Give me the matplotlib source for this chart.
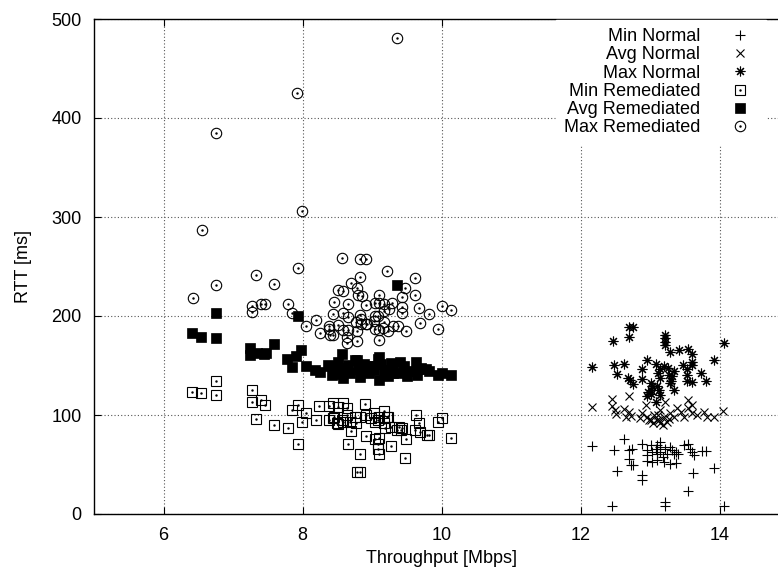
import matplotlib
matplotlib.use("Agg")
import matplotlib.pyplot as plt

plt.rcParams["font.family"] = ["Liberation Sans", "DejaVu Sans"]

# ---- Normal runs ---------------------------------------------------------
min_normal_x = [12.17, 12.48, 12.63, 12.70, 12.74, 12.70, 12.72, 12.76, 12.52, 12.89,
                12.89, 12.89, 12.96, 12.96, 12.96, 13.01, 13.03, 13.03, 13.08, 13.10,
                13.10, 13.10, 13.15, 13.15, 13.15, 13.18, 13.20, 13.22, 13.25, 13.29,
                13.32, 13.34, 13.29, 13.37, 13.38, 13.41, 13.49, 13.54, 13.58, 13.61,
                13.63, 13.62, 13.75, 13.80, 13.92, 13.54, 12.46, 13.22, 13.22, 14.06]
min_normal_y = [69, 65, 76, 65, 66, 56, 50, 50, 43, 71,
                39, 34, 65, 60, 54, 70, 63, 53, 66, 70,
                61, 55, 73, 68, 63, 58, 53, 66, 61, 68,
                65, 61, 51, 52, 63, 61, 70, 71, 66, 63,
                60, 41, 64, 64, 46, 23, 8, 12, 8, 8]

avg_normal_x = [12.17, 12.46, 12.46, 12.49, 12.51, 12.70, 12.63, 12.70, 12.72, 12.66,
                12.89, 12.94, 12.96, 13.01, 13.06, 13.10, 13.15, 13.20, 13.22, 13.25,
                13.29, 13.34, 13.39, 13.44, 13.49, 13.54, 13.54, 13.61, 13.61, 13.68,
                13.78, 13.82, 13.92, 14.05, 12.98, 13.13, 13.15, 13.05, 13.18, 13.12,
                12.85, 13.28]
avg_normal_y = [108, 116, 109, 105, 101, 119, 106, 103, 99, 98,
                102, 110, 98, 95, 100, 95, 105, 98, 113, 93,
                102, 98, 107, 103, 98, 115, 107, 110, 102, 100,
                103, 98, 98, 104, 95, 95, 92, 92, 90, 100,
                97, 96]

max_normal_x = [12.70, 12.76, 12.70, 12.47, 13.21, 13.21, 13.21, 13.21, 14.06, 13.29,
                13.42, 13.54, 13.61, 13.61, 13.61, 13.92, 12.17, 12.48, 12.63, 12.96,
                12.52, 12.69, 12.71, 12.76, 12.89, 12.89, 13.08, 13.15, 13.20, 13.26,
                13.11, 13.15, 13.27, 13.34, 13.30, 13.29, 13.31, 13.01, 13.01, 12.97,
                13.03, 13.10, 13.13, 13.15, 12.95, 13.01, 13.34, 13.48, 13.53, 13.53,
                13.53, 13.61, 13.74, 13.80, 13.08]
max_normal_y = [189, 189, 179, 175, 181, 178, 174, 171, 173, 164,
                166, 167, 162, 154, 151, 156, 148, 151, 152, 156,
                141, 137, 135, 131, 146, 136, 152, 146, 149, 147,
                142, 137, 140, 144, 134, 132, 139, 132, 125, 123,
                129, 129, 125, 120, 119, 121, 125, 151, 146, 140,
                134, 133, 142, 134, 113]

# ---- Remediated runs -----------------------------------------------------
min_rem_x = [6.75, 6.41, 6.54, 6.75, 7.28, 7.28, 7.40, 7.46, 7.33, 7.59,
             7.79, 7.85, 7.93, 7.99, 8.05, 7.93, 8.19, 8.24, 8.38, 8.44,
             8.51, 8.58, 8.64, 8.90, 8.44, 8.50, 8.57, 8.64, 8.69, 8.83,
             8.91, 8.98, 9.08, 9.17, 9.17, 9.23, 9.27, 9.39, 9.42, 9.49,
             9.63, 9.67, 9.79, 9.95, 10.01, 10.14, 8.66, 8.91, 9.04, 9.09,
             9.28, 8.38, 8.45, 8.51, 8.58, 8.76, 8.77, 9.03, 9.04, 9.10,
             9.22, 9.19, 9.36, 9.43, 9.62, 9.69, 9.82, 8.70, 9.10, 9.08,
             9.10, 8.83, 9.47, 8.79, 8.83]
min_rem_y = [134, 123, 122, 120, 125, 113, 115, 110, 96, 90,
             87, 105, 110, 93, 102, 71, 95, 109, 109, 112,
             108, 112, 107, 111, 97, 92, 95, 100, 93, 98,
             100, 97, 95, 104, 92, 98, 88, 88, 85, 76,
             100, 92, 80, 93, 97, 77, 71, 79, 76, 71,
             69, 95, 98, 91, 93, 98, 92, 102, 93, 98,
             98, 87, 85, 87, 85, 83, 80, 84, 77, 66,
             61, 61, 57, 42, 42]

avg_rem_x = [6.41, 6.54, 6.75, 6.75, 7.24, 7.24, 7.35, 7.44, 7.47, 7.59,
             7.78, 7.85, 7.91, 7.93, 7.98, 8.05, 8.18, 8.25, 8.36, 8.38,
             8.43, 8.45, 8.48, 8.51, 8.52, 8.57, 8.58, 8.59, 8.63, 8.66,
             8.69, 8.75, 8.78, 8.80, 8.81, 8.83, 8.89, 8.94, 8.96, 9.02,
             9.03, 9.08, 9.10, 9.10, 9.13, 9.17, 9.19, 9.23, 9.27, 9.30,
             9.30, 9.36, 9.37, 9.41, 9.46, 9.46, 9.51, 9.54, 9.63, 9.65,
             9.66, 9.70, 9.78, 9.82, 9.95, 10.01, 10.14]
avg_rem_y = [183, 179, 178, 203, 168, 161, 163, 162, 163, 172,
             157, 148, 160, 200, 166, 149, 145, 143, 151, 150,
             140, 146, 148, 154, 141, 162, 137, 145, 147, 151,
             142, 156, 156, 148, 146, 138, 152, 149, 142, 149,
             145, 157, 159, 135, 152, 145, 144, 139, 153, 147,
             142, 231, 142, 154, 149, 143, 139, 144, 154, 140,
             146, 147, 146, 144, 140, 142, 140]

max_rem_x = [9.36, 7.92, 6.75, 7.99, 6.55, 8.57, 8.83, 8.91, 7.93, 7.33,
             9.21, 8.83, 6.75, 7.59, 9.62, 8.70, 6.42, 8.51, 8.58, 8.78,
             9.47, 9.10, 8.80, 8.85, 9.43, 9.62, 8.45, 8.65, 8.91, 9.04,
             9.10, 9.17, 9.29, 9.43, 9.43, 9.25, 9.17, 9.68, 10.01, 10.14,
             7.28, 7.28, 7.41, 7.46, 7.79, 7.85, 8.19, 8.44, 8.58, 8.65,
             8.83, 8.84, 8.77, 8.84, 8.92, 9.04, 9.08, 9.03, 9.17, 9.82,
             9.69, 9.95, 8.05, 8.25, 8.38, 8.38, 8.39, 8.44, 8.51, 8.58,
             8.65, 8.64, 8.64, 8.78, 8.78, 8.93, 9.04, 9.10, 9.16, 9.23,
             9.30, 9.37, 9.49, 9.10]
max_rem_y = [481, 425, 385, 306, 287, 259, 258, 258, 248, 241,
             245, 239, 231, 232, 238, 233, 218, 226, 225, 228,
             228, 221, 221, 220, 219, 221, 214, 212, 211, 213,
             213, 212, 213, 209, 203, 207, 205, 208, 210, 206,
             210, 204, 212, 212, 212, 203, 196, 202, 203, 199,
             201, 197, 194, 192, 192, 200, 200, 195, 194, 202,
             193, 187, 190, 183, 190, 187, 181, 181, 191, 186,
             186, 179, 173, 175, 185, 192, 187, 186, 188, 185,
             190, 190, 185, 176]

x_ticks = [6, 8, 10, 12, 14]
y_ticks = [0, 100, 200, 300, 400, 500]

FS = 13
W, H = 778, 574
fig = plt.figure(figsize=(W / 100, H / 100), dpi=100)
# plot area runs past the right edge of the image, as in the reference
ax = fig.add_axes([94 / W, 60 / H, 695 / W, 495 / H])

mk = dict(linestyle="none", color="black")
h_min_n, = ax.plot(min_normal_x, min_normal_y, marker="+", ms=7, mew=0.8, **mk)
h_avg_n, = ax.plot(avg_normal_x, avg_normal_y, marker="x", ms=6, mew=0.8, **mk)
h_max_n, = ax.plot(max_normal_x, max_normal_y, marker=(8, 2, 0), ms=7, mew=0.8, **mk)

h_min_r, = ax.plot(min_rem_x, min_rem_y, marker="s", ms=6.5, mew=0.8, mfc="none", **mk)
d_min_r, = ax.plot(min_rem_x, min_rem_y, marker=".", ms=1.5, **mk)
h_avg_r, = ax.plot(avg_rem_x, avg_rem_y, marker="s", ms=6.5, mew=0.5, mfc="black", **mk)
h_max_r, = ax.plot(max_rem_x, max_rem_y, marker="o", ms=7.5, mew=0.8, mfc="none", **mk)
d_max_r, = ax.plot(max_rem_x, max_rem_y, marker=".", ms=1.5, **mk)

ax.set_xlim(5, 15)
ax.set_ylim(0, 500)
ax.set_xticks(x_ticks)
ax.set_yticks(y_ticks)
ax.tick_params(direction="in", length=5, width=0.8, top=True, labelsize=FS, pad=9)
ax.grid(True, linestyle=(0, (1, 2)), linewidth=0.8, color="#555555")
for sp in ax.spines.values():
    sp.set_linewidth(1.0)

ax.set_xlabel("Throughput [Mbps]", fontsize=FS, labelpad=5)
ax.set_ylabel("RTT [ms]", fontsize=FS, labelpad=14)

leg = fig.legend(
    [h_min_n, h_avg_n, h_max_n, (h_min_r, d_min_r), h_avg_r, (h_max_r, d_max_r)],
    ["Min Normal", "Avg Normal", "Max Normal", "Min Remediated", "Avg Remediated", "Max Remediated"],
    loc="upper right", bbox_to_anchor=(766 / W, 1 - 20 / H), markerfirst=False,
    fontsize=FS, labelspacing=0.07, handlelength=2.0, handletextpad=1.2,
    borderpad=0.45, borderaxespad=0, fancybox=False, framealpha=1,
    facecolor="white", edgecolor="white",
)

fig.savefig("out.png", dpi=100)
